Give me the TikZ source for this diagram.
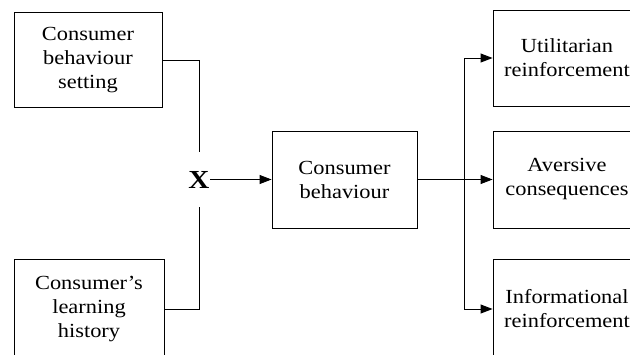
\documentclass[tikz,border=0pt]{standalone}
\usepackage{fontspec}
\setmainfont[FakeStretch=1.12]{Liberation Serif}
\usetikzlibrary{arrows.meta}

\begin{document}
\begin{tikzpicture}[x=1pt, y=-1pt,
        stagebox/.style={draw, line width=0.9pt, minimum width=148pt, minimum height=96pt,
            inner sep=0pt, align=center, font=\fontsize{20}{24}\selectfont},
        link/.style={line width=0.9pt},
        flow/.style={line width=0.9pt, -{Triangle[length=12pt,width=9pt]}}]
        \useasboundingbox (0,0) rectangle (630,354);
        \clip (0,0) rectangle (630,354);
        % inputs
        \node[stagebox, minimum height=95pt] (setting) at (88,60) {Consumer\\behaviour\\setting};
        \node[stagebox, minimum width=150pt, minimum height=100pt] (history) at (89,309) {Consumer's\\learning\\history};
        \node[font=\fontsize{26}{26}\selectfont\bfseries, minimum width=22pt, minimum height=54pt, inner sep=0pt] (xmark) at (199,179.5) {X};
        % behaviour
        \node[stagebox, minimum width=145pt, minimum height=97pt] (behaviour) at (344.5,179.5) {Consumer\\behaviour};
        % consequences
        \node[stagebox] (utilitarian) at (567,58) {Utilitarian\\reinforcement};
        \node[stagebox, minimum height=97pt] (aversive) at (567,179.5) {Aversive\\consequences};
        \node[stagebox, minimum height=100pt] (informational) at (567,309) {Informational\\reinforcement};
        \coordinate (fork) at (464,179.5);
        \draw[link] (setting.east) -| (xmark.north);
        \draw[link] (history.east) -| (xmark.south);
        \draw[flow] (xmark.east) -- (behaviour.west);
        \draw[flow] (behaviour.east) -- (aversive.west);
        \draw[flow] (fork) |- (utilitarian.west);
        \draw[flow] (fork) |- (informational.west);
    \end{tikzpicture}
\end{document}
